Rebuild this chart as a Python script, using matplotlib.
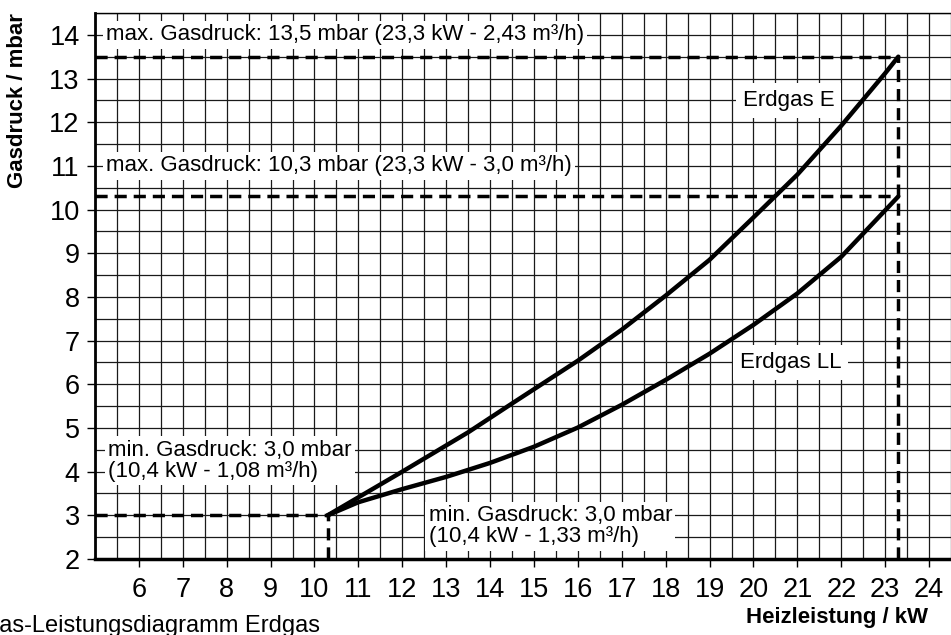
import numpy as np
import matplotlib
matplotlib.use("Agg")
import matplotlib.pyplot as plt

plt.rcParams['font.family'] = ['Liberation Sans', 'DejaVu Sans']

# Kennlinien
leistung_e = [10.3, 12, 13.5, 14.5, 16, 17, 18, 19, 20, 21, 22, 23, 23.3]
druck_e = [3.0, 4.0, 4.9, 5.56, 6.54, 7.25, 8.03, 8.85, 9.82, 10.8, 11.92, 13.12, 13.5]

leistung_ll = [10.3, 11, 12, 13, 14, 15, 16, 17, 18, 19, 20, 21, 22, 23.3]
druck_ll = [3.0, 3.3, 3.6, 3.88, 4.2, 4.57, 5.01, 5.53, 6.1, 6.7, 7.36, 8.08, 8.92, 10.3]

# Grenzwerte
p_max_e = 13.5
p_max_ll = 10.3
p_min = 3.0
q_max = 23.3
q_min = 10.3

x_ticks = list(range(6, 25))
y_ticks = list(range(2, 15))

fig = plt.figure(figsize=(9.51, 6.35), dpi=100)
W, H = 951, 635
ax = fig.add_axes([95 / W, 76 / H, (W - 95) / W, (559 - 13) / H])
ax.set_xlim(5, 24.5)
ax.set_ylim(2, 14.46)

# Raster
ax.set_xticks(x_ticks)
ax.set_yticks(y_ticks)
ax.set_xticks(np.arange(5, 24.6, 0.5), minor=True)
ax.set_yticks(np.arange(2, 14.6, 0.5), minor=True)
ax.grid(which='both', color='#1a1a1a', lw=0.9)
ax.tick_params(which='minor', length=0)
ax.tick_params(which='major', length=6, width=1, labelsize=19.5)
ax.tick_params(axis='x', pad=7)
ax.tick_params(axis='y', pad=5)
ax.set_axisbelow(True)

ax.spines['left'].set_linewidth(2)
ax.spines['bottom'].set_linewidth(2.5)
ax.spines['top'].set_linewidth(1)
ax.spines['right'].set_visible(False)

# Kurven
ax.plot(leistung_e, druck_e, color='black', lw=3.2, solid_capstyle='round',
        solid_joinstyle='round', zorder=5)
ax.plot(leistung_ll, druck_ll, color='black', lw=3.2, solid_capstyle='round',
        solid_joinstyle='round', zorder=5)

# gestrichelte Grenzen
dash = dict(color='black', lw=2.5, dashes=(3.5, 2), zorder=4)
ax.plot([5, q_max], [p_max_e, p_max_e], **dash)
ax.plot([5, q_max], [p_max_ll, p_max_ll], **dash)
ax.plot([q_max, q_max], [2, p_max_e], **dash)
ax.plot([5, q_min], [p_min, p_min], **dash)
ax.plot([q_min, q_min], [2, p_min], **dash)

box = dict(boxstyle='square,pad=0.15', fc='white', ec='none')
fs = 16
ax.text(5.25, 14, 'max. Gasdruck: 13,5 mbar (23,3 kW - 2,43 m³/h)', fontsize=fs,
        va='center', ha='left', bbox=box, zorder=3)
ax.text(5.25, 11, 'max. Gasdruck: 10,3 mbar (23,3 kW - 3,0 m³/h)', fontsize=fs,
        va='center', ha='left', bbox=box, zorder=3)
ax.text(5.3, 4.25, 'min. Gasdruck: 3,0 mbar\n(10,4 kW - 1,08 m³/h)', fontsize=fs,
        va='center', ha='left', linespacing=1.0, bbox=box, zorder=3)
ax.text(12.6, 2.75, 'min. Gasdruck: 3,0 mbar\n(10,4 kW - 1,33 m³/h)', fontsize=fs,
        va='center', ha='left', linespacing=1.0, bbox=box, zorder=3)
ax.text(20.8, 12.5, 'Erdgas E', fontsize=fs, va='center', ha='center',
        bbox=dict(boxstyle='square,pad=0.3', fc='white', ec='none'), zorder=3)
ax.text(20.85, 6.5, 'Erdgas LL', fontsize=fs, va='center', ha='center',
        bbox=dict(boxstyle='square,pad=0.3', fc='white', ec='none'), zorder=3)

# Achsenbeschriftungen
fig.text(18 / W, 1 - 101 / H, 'Gasdruck / mbar', rotation=90, fontsize=16,
         fontweight='bold', ha='center', va='center')
fig.text(928 / W, 1 - 618 / H, 'Heizleistung / kW', fontsize=16,
         fontweight='bold', ha='right', va='center')
# Bildunterschrift, im Original am Rand abgeschnitten
fig.text(-19 / W, 1 - 615 / H, 'Gas-Leistungsdiagramm Erdgas', fontsize=17,
         ha='left', va='top')

fig.savefig('out.png', dpi=100)
